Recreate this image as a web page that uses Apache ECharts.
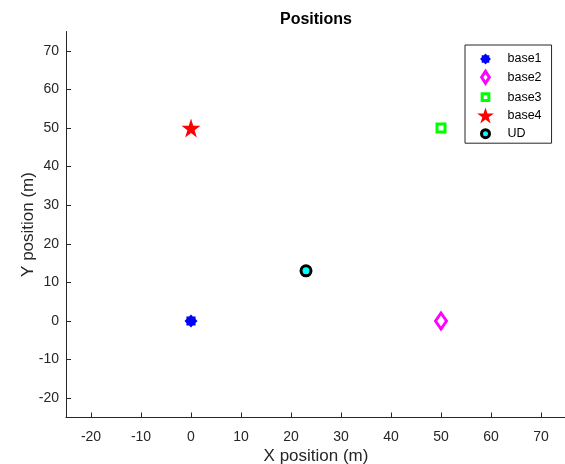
<!DOCTYPE html>
<html><head><meta charset="utf-8">
<script src="https://cdn.jsdelivr.net/npm/echarts@6/dist/echarts.min.js"></script>
<style>html,body{margin:0;padding:0;background:#fff}#c{width:565px;height:464px}</style>
</head><body><div id="c"></div>
<script>
const seriesNames = ['base1','base2','base3','base4','UD'];
const base1 = [[0,0]];
const base2 = [[50,0]];
const base3 = [[50,50]];
const base4 = [[0,50]];
const ud = [[23,13]];
const xTicks = [-20,-10,0,10,20,30,40,50,60,70];
const yTicks = [-20,-10,0,10,20,30,40,50,60,70];

const asterisk = 'path://M100,50 L85.1,64.6 L85.4,85.4 L64.6,85.1 L50,100 L35.4,85.1 L14.6,85.4 L14.9,64.6 L0,50 L14.9,35.4 L14.6,14.6 L35.4,14.9 L50,0 L64.6,14.9 L85.4,14.6 L85.1,35.4 Z';
const star = 'path://M50,0 L61.2,34.6 L97.6,34.5 L68.1,55.9 L79.4,90.5 L50,69 L20.6,90.5 L31.9,55.9 L2.4,34.5 L38.8,34.6 Z';
// legend icons: padded to a 0..100 frame so their size inside the icon box is controlled
const pad = 'M0,0 M100,100 ';
const lgAsterisk = 'path://' + pad + 'M84,50 L73.6,60.2 L73.8,73.8 L60.2,73.6 L50,84 L39.8,73.6 L26.2,73.8 L26.4,60.2 L16,50 L26.4,39.8 L26.2,26.2 L39.8,26.4 L50,16 L60.2,26.4 L73.8,26.2 L73.6,39.8 Z';
const lgDiamond = 'path://' + pad + 'M50,13 L74,50 L50,87 L26,50 Z';
const lgSquare = 'path://' + pad + 'M29,29 L71,29 L71,71 L29,71 Z';
const lgStar = star;
const lgCircle = 'path://' + pad + 'M25,50 A25,25 0 1 1 75,50 A25,25 0 1 1 25,50 Z';

const font = 'Liberation Sans, Arial, sans-serif';
const axisCol = '#262626';

const chart = echarts.init(document.getElementById('c'), null, {renderer:'canvas'});
chart.setOption({
  animation:false,
  backgroundColor:'#fff',
  title:{text:'Positions', left:311, top:7, textAlign:'center',
    textStyle:{fontFamily:font, fontSize:16, fontWeight:'bold', color:'#000'}},
  grid:{left:66, top:31.5, width:500, height:386, containLabel:false, outerBoundsMode:'none'},
  legend:{
    orient:'vertical', left:465, top:45,
    backgroundColor:'#fff', borderColor:'#262626', borderWidth:1,
    padding:[6,10,0,11], itemGap:0.8, itemWidth:34, itemHeight:16,
    textStyle:{fontFamily:font, fontSize:12.5, color:'#000'},
    data:[
      {name:'base1', icon:lgAsterisk},
      {name:'base2', icon:lgDiamond, itemStyle:{borderWidth:3}},
      {name:'base3', icon:lgSquare, itemStyle:{borderWidth:3}},
      {name:'base4', icon:lgStar},
      {name:'UD', icon:lgCircle, itemStyle:{borderWidth:3}}
    ]
  },
  xAxis:{type:'value', min:-25, max:75,
    name:'X position (m)', nameLocation:'middle', nameGap:30, nameMoveOverlap:false,
    nameTextStyle:{fontFamily:font, fontSize:17, color:axisCol},
    axisLine:{show:true, onZero:false, lineStyle:{color:axisCol, width:1}},
    axisTick:{show:true, inside:true, length:5, customValues:xTicks, lineStyle:{color:axisCol}},
    axisLabel:{customValues:xTicks, margin:13, fontFamily:font, fontSize:14, color:axisCol},
    splitLine:{show:false}},
  yAxis:{type:'value', min:-25, max:75,
    name:'Y position (m)', nameLocation:'middle', nameGap:29, nameMoveOverlap:false,
    nameTextStyle:{fontFamily:font, fontSize:17, color:axisCol},
    axisLine:{show:true, onZero:false, lineStyle:{color:axisCol, width:1}},
    axisTick:{show:true, inside:true, length:5, customValues:yTicks, lineStyle:{color:axisCol}},
    axisLabel:{customValues:yTicks, margin:7, fontFamily:font, fontSize:14, color:axisCol},
    splitLine:{show:false}},
  series:[
    {name:'base1', type:'scatter', data:base1, symbol:asterisk, symbolSize:13,
      itemStyle:{color:'#0000ff', opacity:1}},
    {name:'base2', type:'scatter', data:base2, symbol:'diamond', symbolSize:[11,16],
      itemStyle:{color:'#ffffff', borderColor:'#ff00ff', borderWidth:3, opacity:1}},
    {name:'base3', type:'scatter', data:base3, symbol:'rect', symbolSize:8,
      itemStyle:{color:'#ffffff', borderColor:'#00ff00', borderWidth:3, opacity:1}},
    {name:'base4', type:'scatter', data:base4, symbol:star, symbolSize:19,
      itemStyle:{color:'#ff0000', opacity:1}},
    {name:'UD', type:'scatter', data:ud, symbol:'circle', symbolSize:10,
      itemStyle:{color:'#00ffff', borderColor:'#000000', borderWidth:3, opacity:1}}
  ]
});
</script></body></html>
